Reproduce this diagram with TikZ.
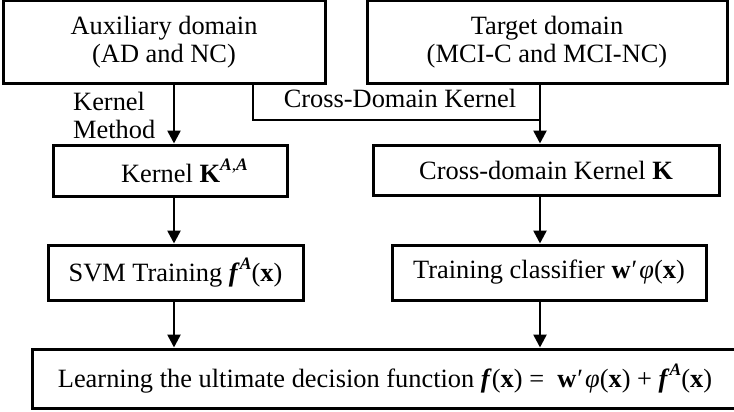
\documentclass[tikz,border=0pt]{standalone}
\usepackage{fontspec}
\setmainfont{Liberation Serif}
\usetikzlibrary{arrows.meta}
\newcommand{\bfi}[1]{\textbf{\textit{#1}}}
\newcommand{\sups}[1]{\raisebox{0.45em}{\fontsize{17.5}{17.5}\selectfont #1}}
\begin{document}
\begin{tikzpicture}[x=1pt,y=-1pt,
  box/.style={draw, line width=3pt, inner sep=0pt, align=center},
  arr/.style={line width=2.6pt, -{Triangle[length=13pt,width=13pt]}},
  lnk/.style={line width=2.6pt},
  lbl/.style={inner sep=0pt, align=left}]
\useasboundingbox (0,0) rectangle (734,412);
\fontsize{26.4}{28}\selectfont
\node[box, minimum width=322pt, minimum height=83pt] (aux) at (164,42.5)
  {Auxiliary domain\\(AD and NC)};
\node[box, minimum width=360pt, minimum height=83pt] (tgt) at (547,42.5)
  {Target domain\\(MCI-C and MCI-NC)};
\node[box, minimum width=234pt, minimum height=51pt] (kaa) at (170,170.5)
  {\hspace*{29pt}Kernel \textbf{K}\sups{\bfi{A},\bfi{A}}};
\node[box, minimum width=346pt, minimum height=50pt] (ck) at (546,170)
  {Cross-domain Kernel \textbf{K}};
\node[box, minimum width=255pt, minimum height=55pt] (svm) at (175.5,272.5)
  {SVM Training \bfi{f}\sups{\bfi{A}}(\textbf{x})};
\node[box, minimum width=314pt, minimum height=55pt] (tc) at (549,272.5)
  {Training classifier \textbf{w}\kern1pt′\kern2pt\textit{φ}(\textbf{x})};
\node[box, minimum width=706pt, minimum height=59pt] (fin) at (385,378.5)
  {Learning the ultimate decision function \bfi{f}(\textbf{x}) =\ \ \textbf{w}\kern1pt′\kern2pt\textit{φ}(\textbf{x}) + \bfi{f}\sups{\bfi{A}}(\textbf{x})};
\coordinate (xl) at (174,0);
\coordinate (xr) at (540,0);
\coordinate (xc) at (253,0);
\coordinate (cdj) at (540,120);
\draw[arr] (aux.south -| xl) -- (kaa.north -| xl);
\draw[arr] (kaa.south -| xl) -- (svm.north -| xl);
\draw[arr] (svm.south -| xl) -- (fin.north -| xl);
\draw[arr] (tgt.south -| xr) -- (ck.north -| xr);
\draw[arr] (ck.south -| xr) -- (tc.north -| xr);
\draw[arr] (tc.south -| xr) -- (fin.north -| xr);
\draw[lnk] (aux.south -| xc) |- (cdj);
\node[lbl, anchor=west] (km) at (73,115) {Kernel\\Method};
\node[inner sep=0pt, anchor=base] (cdk) at (400,107) {Cross-Domain Kernel};
\end{tikzpicture}
\end{document}
